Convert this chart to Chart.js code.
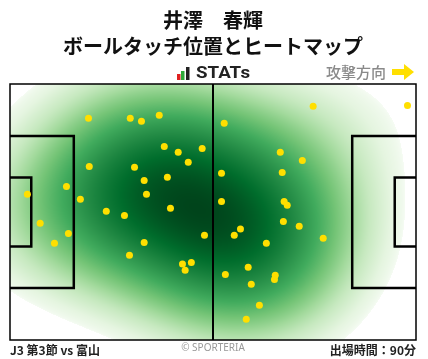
<!DOCTYPE html>
<html><head><meta charset="utf-8">
<script src="https://cdn.jsdelivr.net/npm/chart.js@4"></script>
<style>html,body{margin:0;padding:0;background:#fff}#wrap{width:428px;height:359px;position:relative}</style>
</head><body><div id="wrap"><canvas id="c"></canvas></div>
<script>
// ---- texts ----
const PLAYER_NAME = '井澤　春輝';
const CHART_TITLE = 'ボールタッチ位置とヒートマップ';
const BRAND = 'STATs';
const ATTACK_LABEL = '攻撃方向';
const MATCH_LABEL = 'J3 第3節 vs 富山';
const COPYRIGHT = '© SPORTERIA';
const PLAY_TIME = '出場時間：90分';

// ---- ball touch positions (metres, x: 0-105 toward attack, y: 0-68 from top touchline) ----
const touchX = [20.3,31.1,34.0,38.6,39.9,43.5,49.7,46.1,20.5,32.2,34.7,40.7,14.6,4.5,18.2,35.3,41.5,24.9,29.6,7.8,15.1,11.5,34.7,50.3,30.9,44.6,45.3,46.9,
                78.4,102.8,55.4,69.9,75.6,54.7,70.4,54.7,70.9,71.7,70.7,74.8,59.6,58.0,81.0,66.3,55.7,61.6,62.4,68.6,68.4,64.5,61.1];
const touchY = [9.1,9.1,9.9,8.3,16.6,18.1,17.1,20.8,21.9,22.1,25.6,24.8,27.2,29.3,30.6,29.3,33.0,33.8,34.9,37.0,39.7,42.3,42.1,40.2,45.5,47.8,49.5,47.4,
                5.9,5.7,10.4,18.1,20.3,23.7,23.5,31.2,31.2,32.2,36.5,37.8,38.5,40.2,41.0,42.3,50.6,48.7,53.2,50.8,51.9,58.8,62.5];

// ---- pitch geometry (metres) ----
const PITCH_L = 105, PITCH_W = 68;
const PEN_D = 16.5, PEN_W = 40.32, GOAL_D = 5.5, GOAL_W = 18.32;

// ---- heatmap settings ----
const BW_X = 18, BW_Y = 15, THRESH = 0.018, GAMMA = 0.55;
const GREENS = ['#f7fcf5','#e5f5e0','#c7e9c0','#a1d99b','#74c476','#41ab5d','#238b45','#006d2c','#00441b'];

function hex(h){return [parseInt(h.slice(1,3),16),parseInt(h.slice(3,5),16),parseInt(h.slice(5,7),16)];}
const GR = GREENS.map(hex);
function greens(t){
  t=Math.max(0,Math.min(1,t));
  const p=t*(GR.length-1), i=Math.min(GR.length-2,Math.floor(p)), f=p-i;
  return GR[i].map((c,k)=>Math.round(c+(GR[i+1][k]-c)*f));
}

let heatCache=null;
const heatPlugin={
  id:'heat',
  beforeDatasetsDraw(chart){
    const {ctx, chartArea:a, scales:{x,y}}=chart;
    const W=Math.round(a.right-a.left), H=Math.round(a.bottom-a.top);
    if(!heatCache){
      const n=W*H, dens=new Float64Array(n);
      for(let j=0;j<H;j++){
        const vy=y.getValueForPixel(a.top+j+0.5);
        for(let i=0;i<W;i++){
          const vx=x.getValueForPixel(a.left+i+0.5);
          let s=0;
          for(let k=0;k<touchX.length;k++){
            const dx=(vx-touchX[k])/BW_X, dy=(vy-touchY[k])/BW_Y;
            s+=Math.exp(-0.5*(dx*dx+dy*dy));
          }
          dens[j*W+i]=s;
        }
      }
      const order=Array.from({length:n},(_,i)=>i).sort((p,q)=>dens[p]-dens[q]);
      let total=0; for(let i=0;i<n;i++) total+=dens[i];
      const q=new Float64Array(n); let cum=0;
      for(const id of order){cum+=dens[id]; q[id]=cum/total;}
      const off=document.createElement('canvas'); off.width=W; off.height=H;
      const octx=off.getContext('2d'); const img=octx.createImageData(W,H);
      for(let i=0;i<n;i++){
        let c=[255,255,255];
        if(q[i]>=THRESH) c=greens(Math.pow((q[i]-THRESH)/(1-THRESH),GAMMA));
        img.data[i*4]=c[0];img.data[i*4+1]=c[1];img.data[i*4+2]=c[2];img.data[i*4+3]=255;
      }
      octx.putImageData(img,0,0);
      heatCache=off;
    }
    ctx.save();
    ctx.drawImage(heatCache,a.left,a.top,W,H);
    // pitch lines
    const X=v=>x.getPixelForValue(v), Y=v=>y.getPixelForValue(v);
    ctx.strokeStyle='#000';
    const rect=(x0,y0,x1,y1)=>{ctx.beginPath();ctx.moveTo(X(x0),Y(y0));ctx.lineTo(X(x1),Y(y0));ctx.lineTo(X(x1),Y(y1));ctx.lineTo(X(x0),Y(y1));ctx.stroke();};
    ctx.lineWidth=2.5;
    rect(0,(PITCH_W-PEN_W)/2,PEN_D,(PITCH_W+PEN_W)/2);
    rect(PITCH_L,(PITCH_W-PEN_W)/2,PITCH_L-PEN_D,(PITCH_W+PEN_W)/2);
    rect(0,(PITCH_W-GOAL_W)/2,GOAL_D,(PITCH_W+GOAL_W)/2);
    rect(PITCH_L,(PITCH_W-GOAL_W)/2,PITCH_L-GOAL_D,(PITCH_W+GOAL_W)/2);
    ctx.lineWidth=2;
    ctx.beginPath();ctx.moveTo(X(PITCH_L/2),Y(0));ctx.lineTo(X(PITCH_L/2),Y(PITCH_W));ctx.stroke();
    ctx.lineWidth=1.5;
    ctx.strokeRect(X(0),Y(0),X(PITCH_L)-X(0),Y(PITCH_W)-Y(0));
    ctx.restore();
  }
};

const textPlugin={
  id:'texts',
  afterDraw(chart){
    const ctx=chart.ctx, a=chart.chartArea, cx=(a.left+a.right)/2;
    ctx.save();
    ctx.fillStyle='#111';
    ctx.textAlign='center'; ctx.textBaseline='middle';
    ctx.font='bold 20px "Noto Sans CJK JP"';
    ctx.fillText(PLAYER_NAME,cx,20);
    ctx.fillText(CHART_TITLE,cx,46);
    // brand logo
    ctx.fillStyle='#e02020'; ctx.fillRect(177,74,3.5,6);
    ctx.fillStyle='#2eaa3a'; ctx.fillRect(181,71,3.5,9);
    ctx.fillStyle='#222'; ctx.fillRect(186,67,3.5,13);
    ctx.font='bold 16px Roboto';
    ctx.textAlign='left';
    const bw=ctx.measureText(BRAND).width;
    ctx.save(); ctx.translate(196,74); ctx.scale(54/bw,1); ctx.fillText(BRAND,0,0); ctx.restore();
    // attack direction
    ctx.fillStyle='#8a8a8a';
    ctx.font='500 15px "Noto Sans CJK JP"';
    ctx.textAlign='right';
    ctx.fillText(ATTACK_LABEL,386,72);
    ctx.fillStyle='#ffdf00';
    ctx.beginPath();
    ctx.moveTo(392,69);ctx.lineTo(404,69);ctx.lineTo(404,64);ctx.lineTo(414,72);ctx.lineTo(404,80);ctx.lineTo(404,75);ctx.lineTo(392,75);ctx.closePath();ctx.fill();
    // footer
    ctx.fillStyle='#222';
    ctx.font='bold 12px "Noto Sans CJK JP"';
    ctx.textAlign='left';
    ctx.fillText(MATCH_LABEL,10,350);
    ctx.textAlign='right';
    ctx.fillText(PLAY_TIME,416,350);
    ctx.fillStyle='#999';
    ctx.font='10px "Noto Sans"';
    ctx.textAlign='center';
    ctx.fillText(COPYRIGHT,213,348);
    ctx.restore();
  }
};

new Chart(document.getElementById('c'),{
  type:'scatter',
  data:{datasets:[{
    data:touchX.map((v,i)=>({x:v,y:touchY[i]})),
    backgroundColor:'#ffdf00',borderWidth:0,pointRadius:3.5,pointHoverRadius:3.5,clip:false
  }]},
  options:{
    responsive:true,maintainAspectRatio:false,animation:false,devicePixelRatio:1,
    layout:{padding:{left:10,right:12,top:84,bottom:19}},
    scales:{
      x:{type:'linear',min:0,max:PITCH_L,display:false},
      y:{type:'linear',min:0,max:PITCH_W,reverse:true,display:false}
    },
    plugins:{legend:{display:false},tooltip:{enabled:false},title:{display:false}}
  },
  plugins:[heatPlugin,textPlugin]
});
</script></body></html>
